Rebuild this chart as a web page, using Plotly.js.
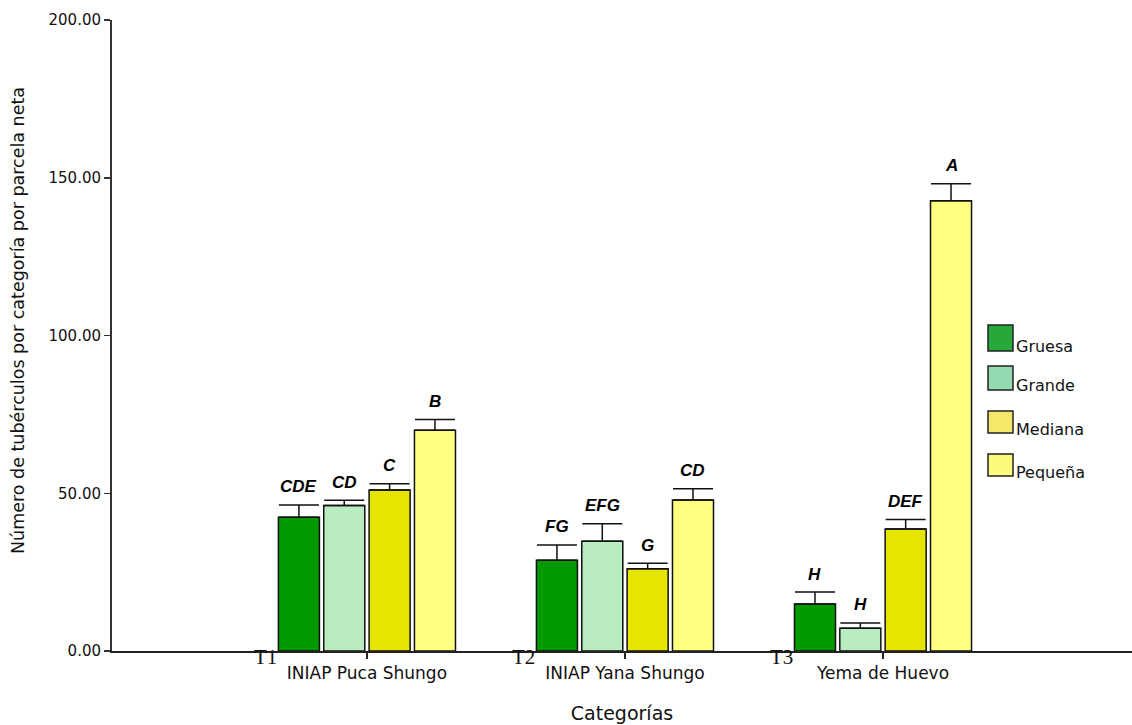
<!DOCTYPE html>
<html>
<head>
<meta charset="utf-8">
<script src="https://cdn.plot.ly/plotly-3.0.1.min.js"></script>
<style>html,body{margin:0;padding:0;background:#fff;}#chart{width:1132px;height:725px;}</style>
</head>
<body>
<div id="chart"></div>
<script>
const categories = ["INIAP Puca Shungo", "INIAP Yana Shungo", "Yema de Huevo"];
const treatmentLabels = ["T1", "T2", "T3"];
const seriesNames = ["Gruesa", "Grande", "Mediana", "Pequeña"];
const gruesa = [42.4, 28.8, 14.9];
const grande = [46.1, 34.8, 7.2];
const mediana = [51.0, 26.1, 38.7];
const pequena = [70.0, 47.9, 142.7];
const gruesaErr = [3.9, 4.8, 3.8];
const grandeErr = [1.7, 5.5, 1.7];
const medianaErr = [2.0, 1.7, 3.0];
const pequenaErr = [3.4, 3.5, 5.4];
const gruesaLetters = ["CDE", "FG", "H"];
const grandeLetters = ["CD", "EFG", "H"];
const medianaLetters = ["C", "G", "DEF"];
const pequenaLetters = ["B", "CD", "A"];

const barColors = ["#009900", "#b9ecc1", "#e5e500", "#ffff80"];
const legendColors = ["#26a83a", "#94dab1", "#f5e76a", "#fcfa7a"];

const values = [gruesa, grande, mediana, pequena];
const errs = [gruesaErr, grandeErr, medianaErr, pequenaErr];
const letters = [gruesaLetters, grandeLetters, medianaLetters, pequenaLetters];

const bargap = 0.297;
const pitch = (1 - bargap) / 4;
const sans = "DejaVu Sans, Arial, sans-serif";

const traces = values.map((v, s) => ({
  type: "bar",
  name: seriesNames[s],
  x: categories,
  y: v,
  marker: {color: barColors[s], line: {color: "#111", width: 1.5}},
  error_y: {type: "data", array: errs[s], arrayminus: errs[s].map(() => 0), symmetric: false,
            color: "#111", thickness: 1.5, width: 20},
  showlegend: false,
  hoverinfo: "skip"
}));

const annotations = [];
values.forEach((v, s) => {
  v.forEach((val, i) => {
    annotations.push({
      x: i + (s - 1.5) * pitch, y: val + errs[s][i], xref: "x", yref: "y",
      text: "<b><i>" + letters[s][i] + "</i></b>", showarrow: false,
      yanchor: "middle", yshift: 18,
      font: {family: "Liberation Sans, Arial, sans-serif", size: 17, color: "#000"}
    });
  });
});
treatmentLabels.forEach((t, i) => {
  annotations.push({
    x: i - 0.395, y: 0, xref: "x", yref: "y", text: t, showarrow: false,
    yanchor: "middle", yshift: -6,
    font: {family: "Liberation Serif, Times New Roman, serif", size: 21, color: "#111"}
  });
});

// y-axis title
annotations.push({
  xref: "paper", yref: "paper", x: (18 - 112) / 1020, y: (651 - 321) / 631,
  xanchor: "center", yanchor: "middle", textangle: -90, showarrow: false,
  text: "Número de tubérculos por categoría por parcela neta",
  font: {family: sans, size: 17.5, color: "#111"}
});

// custom legend
const shapes = [];
const legTop = [325, 366, 411, 454];
const legH = [26, 24, 22, 22];
seriesNames.forEach((n, s) => {
  shapes.push({type: "rect", xref: "paper", yref: "paper",
    x0: (988 - 112) / 1020, x1: (1013 - 112) / 1020,
    y0: (651 - legTop[s]) / 631, y1: (651 - legTop[s] - legH[s]) / 631,
    fillcolor: legendColors[s], line: {color: "#222", width: 1.5}, layer: "above"});
  annotations.push({xref: "paper", yref: "paper",
    x: (1014 - 112) / 1020, y: (651 - (legTop[s] + legH[s] - 4)) / 631,
    xanchor: "left", yanchor: "middle", text: n, showarrow: false,
    font: {family: sans, size: 16, color: "#111"}});
});

const layout = {
  width: 1132, height: 725,
  margin: {l: 112, r: 0, t: 20, b: 74},
  paper_bgcolor: "#fff", plot_bgcolor: "#fff",
  barmode: "group", bargap: bargap, bargroupgap: 0.095,
  font: {family: sans, color: "#111"},
  xaxis: {
    type: "category", range: [-0.988, 2.965], showgrid: false, zeroline: false,
    showline: true, linecolor: "#222", linewidth: 1.5,
    ticks: "outside", ticklen: 6, tickcolor: "#222", tickwidth: 1.5,
    tickfont: {family: sans, size: 17, color: "#111"},
    title: {text: "Categorías", font: {family: sans, size: 19, color: "#111"}, standoff: 25},
    automargin: false, fixedrange: true
  },
  yaxis: {
    range: [0, 200], tickvals: [0, 50, 100, 150, 200], tickformat: ".2f",
    showgrid: false, zeroline: false, showline: true, linecolor: "#333", linewidth: 2,
    ticks: "outside", ticklen: 6, tickcolor: "#333", tickwidth: 1.5,
    tickfont: {family: sans, size: 15, color: "#111"},
    automargin: false, fixedrange: true
  },
  annotations: annotations,
  shapes: shapes,
  showlegend: false
};

Plotly.newPlot("chart", traces, layout, {displayModeBar: false, staticPlot: true});
</script>
</body>
</html>
